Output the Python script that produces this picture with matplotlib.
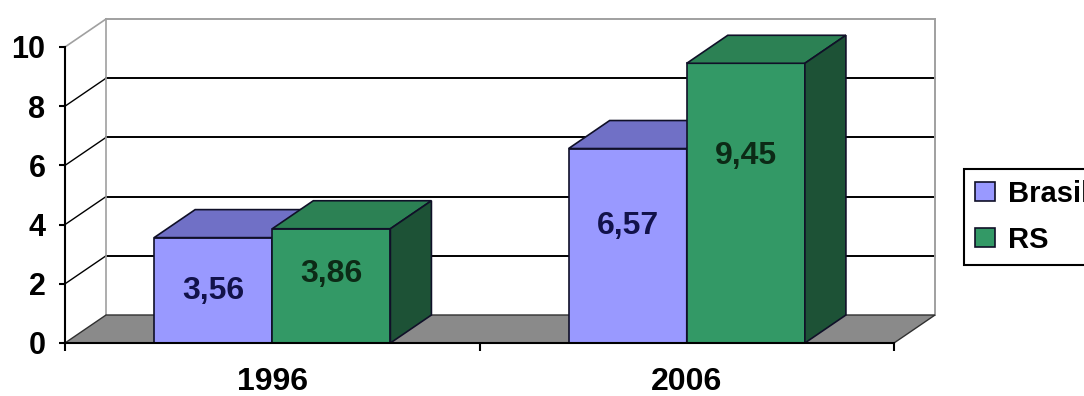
import matplotlib.pyplot as plt
from matplotlib.patches import Polygon, Patch

# data
years = ["1996", "2006"]
series = ["Brasil", "RS"]
brasil = [3.56, 6.57]
rs = [3.86, 9.45]
values = [brasil, rs]

# style
front_colors = ["#9999ff", "#339966"]
top_colors = ["#7070c6", "#2c8154"]
side_colors = ["#4d4d99", "#1d5236"]
text_colors = ["#12124a", "#0c2a16"]
label_frac = [[0.49, 0.60], [0.60, 0.67]]  # where each value label sits on its bar

bar_w = 0.285
dx, dy = 0.099, 0.946   # depth offset of the 3d box (x units, value units)
ymax = 10
font = "Liberation Sans"

fig = plt.figure(figsize=(10.84, 3.96), dpi=100)
ax = fig.add_axes([65 / 1084, 53 / 396, 829 / 1084, 296 / 396])
ax.set_xlim(0, len(years))
ax.set_ylim(0, ymax)
ax.patch.set_visible(False)

# back wall and side wall lines
grid = "#000000"
edge_gray = "#a0a0a0"
for v in range(2, ymax, 2):
    ax.plot([dx, len(years) + dx], [v + dy, v + dy], color=grid, lw=1.4, zorder=1, clip_on=False)
    ax.plot([0, dx], [v, v + dy], color=grid, lw=1.0, zorder=1, clip_on=False)
ax.plot([0, dx], [ymax, ymax + dy], color=edge_gray, lw=1.2, zorder=1, clip_on=False)
ax.plot([dx, len(years) + dx], [ymax + dy, ymax + dy], color=edge_gray, lw=1.4, zorder=1, clip_on=False)
ax.plot([dx, dx], [dy, ymax + dy], color=edge_gray, lw=1.2, zorder=1, clip_on=False)
ax.plot([len(years) + dx] * 2, [dy, ymax + dy], color=edge_gray, lw=1.4, zorder=1, clip_on=False)

# gray floor
floor = Polygon([(0, 0), (len(years), 0), (len(years) + dx, dy), (dx, dy)],
                closed=True, facecolor="#8a8a8a", edgecolor="#303030", lw=1.0,
                zorder=2, clip_on=False)
ax.add_patch(floor)


def box(x0, v, k):
    ec = "#101028"
    faces = [
        ([(x0, 0), (x0 + bar_w, 0), (x0 + bar_w, v), (x0, v)], front_colors[k]),
        ([(x0, v), (x0 + bar_w, v), (x0 + bar_w + dx, v + dy), (x0 + dx, v + dy)], top_colors[k]),
        ([(x0 + bar_w, 0), (x0 + bar_w + dx, dy), (x0 + bar_w + dx, v + dy), (x0 + bar_w, v)], side_colors[k]),
    ]
    for pts, c in faces:
        ax.add_patch(Polygon(pts, closed=True, facecolor=c, edgecolor=ec,
                             lw=1.2, zorder=3, clip_on=False))


for i, year in enumerate(years):
    for k in range(len(series)):
        v = values[k][i]
        x0 = i + 0.5 - bar_w + k * bar_w
        box(x0, v, k)
        ax.text(x0 + bar_w / 2, v * label_frac[i][k], f"{v:.2f}".replace(".", ","),
                ha="center", va="center", fontsize=23, fontweight="bold",
                family=font, color=text_colors[k], zorder=5)

# axes
for s in ["top", "right"]:
    ax.spines[s].set_visible(False)
ax.spines["left"].set_linewidth(1.5)
ax.spines["bottom"].set_linewidth(1.5)
ax.spines["bottom"].set_zorder(4)

ax.set_yticks(range(0, ymax + 1, 2))
ax.set_yticklabels([str(t) for t in range(0, ymax + 1, 2)],
                   fontsize=22, fontweight="bold", family=font)
ax.tick_params(axis="y", length=4, width=1.5, pad=10)

ax.set_xticks(range(len(years) + 1))
ax.set_xticklabels([])
ax.set_xticks([i + 0.5 for i in range(len(years))], minor=True)
ax.set_xticklabels(years, minor=True, fontsize=23, fontweight="bold", family=font)
ax.tick_params(axis="x", which="major", length=6, width=1.5)
ax.tick_params(axis="x", which="minor", length=0, pad=17)

# legend, runs past the right edge of the figure
handles = [Patch(facecolor=front_colors[k], edgecolor="#101028", lw=1.2) for k in range(len(series))]
leg = fig.legend(handles, series, loc="upper left",
                 bbox_to_anchor=(964 / 1084, 1 - 169 / 396), borderaxespad=0,
                 fancybox=False, edgecolor="black", framealpha=1,
                 prop={"family": font, "weight": "bold", "size": 21},
                 handlelength=0.7, handleheight=0.62, handletextpad=0.42,
                 labelspacing=0.62, borderpad=0.38)
leg.get_frame().set_linewidth(1.5)

fig.savefig("out.png", dpi=100)
